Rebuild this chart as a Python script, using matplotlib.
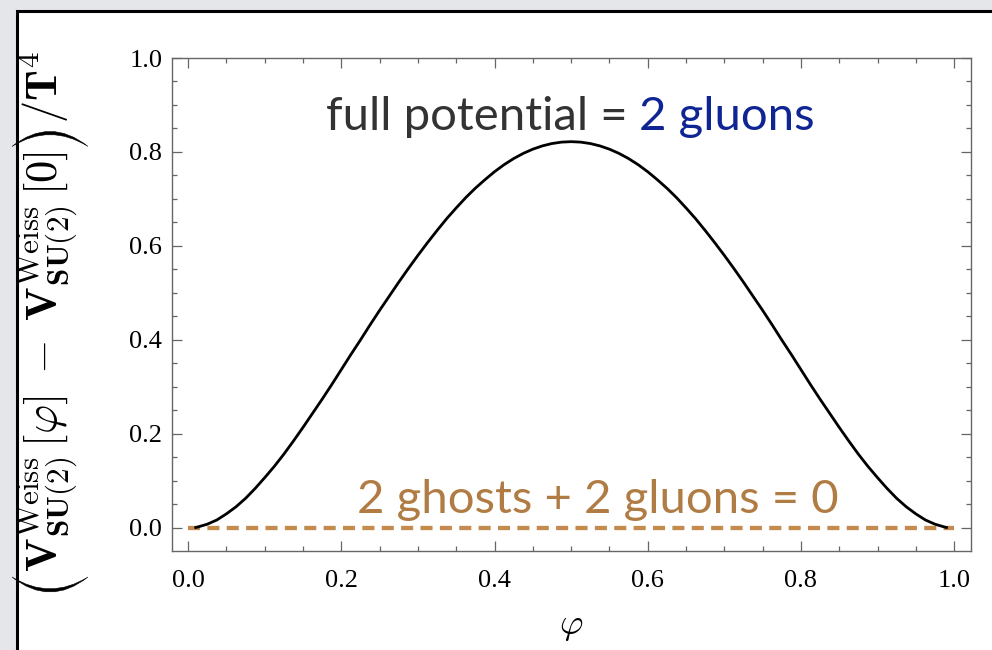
import matplotlib
matplotlib.use("Agg")
import matplotlib.pyplot as plt
from matplotlib.patches import Rectangle, PathPatch
from matplotlib.path import Path
from matplotlib.ticker import MultipleLocator
from matplotlib.transforms import IdentityTransform

# Weiss potential of SU(2) (full potential), sampled in phi
phi = [0.01, 0.0125, 0.025, 0.0375, 0.05, 0.0625, 0.075, 0.0875, 0.10, 0.1125,
       0.125, 0.1375, 0.15, 0.1625, 0.175, 0.1875, 0.20, 0.2125, 0.225, 0.2375,
       0.25, 0.2625, 0.275, 0.2875, 0.30, 0.3125, 0.325, 0.3375, 0.35, 0.3625,
       0.375, 0.3875, 0.40, 0.4125, 0.425, 0.4375, 0.45, 0.4625, 0.475, 0.4875,
       0.50,
       0.5125, 0.525, 0.5375, 0.55, 0.5625, 0.575, 0.5875, 0.60, 0.6125, 0.625,
       0.6375, 0.65, 0.6625, 0.675, 0.6875, 0.70, 0.7125, 0.725, 0.7375, 0.75,
       0.7625, 0.775, 0.7875, 0.80, 0.8125, 0.825, 0.8375, 0.85, 0.8625, 0.875,
       0.8875, 0.90, 0.9125, 0.925, 0.9375, 0.95, 0.9625, 0.975, 0.9875, 0.99]
v_full = [0.001, 0.002, 0.008, 0.017, 0.030, 0.045, 0.063, 0.084, 0.107, 0.131,
          0.157, 0.185, 0.214, 0.244, 0.274, 0.305, 0.337, 0.369, 0.400, 0.432,
          0.463, 0.493, 0.523, 0.552, 0.580, 0.607, 0.633, 0.658, 0.681, 0.703,
          0.723, 0.741, 0.758, 0.773, 0.786, 0.797, 0.806, 0.813, 0.818, 0.821,
          0.822,
          0.821, 0.818, 0.813, 0.806, 0.797, 0.786, 0.773, 0.758, 0.741, 0.723,
          0.703, 0.681, 0.658, 0.633, 0.607, 0.580, 0.552, 0.523, 0.493, 0.463,
          0.432, 0.400, 0.369, 0.337, 0.305, 0.274, 0.244, 0.214, 0.185, 0.157,
          0.131, 0.107, 0.084, 0.063, 0.045, 0.030, 0.017, 0.008, 0.002, 0.001]

# ghosts + gluons cancel exactly
phi_zero = [0.0, 1.0]
v_zero = [0.0, 0.0]

x_ticks = [0.0, 0.2, 0.4, 0.6, 0.8, 1.0]
y_ticks = [0.0, 0.2, 0.4, 0.6, 0.8, 1.0]

W, H = 992, 650
plt.rcParams["mathtext.fontset"] = "cm"

fig = plt.figure(figsize=(W / 100, H / 100), dpi=100)
fig.patch.set_facecolor("#e4e6ea")

# white slide panel with black outline
panel = Rectangle((17 / W, -0.1), 1.2, 1 - 11 / H + 0.1,
                  transform=fig.transFigure, facecolor="white",
                  edgecolor="black", linewidth=2.2, zorder=-10)
fig.patches.append(panel)

ax = fig.add_axes([172 / W, 1 - 551 / H, (971 - 172) / W, (551 - 58) / H])
ax.set_facecolor("none")
ax.set_zorder(1)

ax.plot(phi_zero, v_zero, color="#c38b4d", linewidth=3.1,
        dashes=(2.8, 1.7), solid_capstyle="butt", zorder=2)
ax.plot(phi, v_full, color="black", linewidth=2.0, zorder=3,
        solid_joinstyle="round")

ax.set_xlim(-0.021, 1.022)
ax.set_ylim(-0.049, 1.0)

ax.set_xticks(x_ticks)
ax.set_yticks(y_ticks)
ax.xaxis.set_minor_locator(MultipleLocator(0.05))
ax.yaxis.set_minor_locator(MultipleLocator(0.05))
ax.set_xticklabels([f"{t:.1f}" for t in x_ticks])
ax.set_yticklabels([f"{t:.1f}" for t in y_ticks])

for s in ax.spines.values():
    s.set_color("#666666")
    s.set_linewidth(1.0)

ax.tick_params(which="both", direction="in", top=True, right=True,
               color="#666666", width=0.9)
ax.tick_params(which="major", length=7)
ax.tick_params(which="minor", length=3.8)
ax.tick_params(axis="x", which="major", pad=14)
ax.tick_params(axis="y", which="major", pad=7)
for lab in ax.get_xticklabels() + ax.get_yticklabels():
    lab.set_fontfamily("Liberation Serif")
    lab.set_fontsize(19)

ax.set_xlabel(r"$\varphi$", fontsize=26, labelpad=12)

fig.canvas.draw()
r = fig.canvas.get_renderer()


# vertical axis title, built bottom-to-top with tall, thin parentheses
def add_paren(opening_up, y_start, x0=12, x1=88, depth=15, thick=3.2):
    xm = (x0 + x1) / 2
    if opening_up:
        ye, sgn = y_start + depth, -1
    else:
        ye, sgn = y_start, 1
    outer = ye + sgn * 2 * depth
    inner = ye + sgn * 2 * (depth - thick)
    verts = [(x0, ye), (xm, outer), (x1, ye), (xm, inner), (x0, ye), (x0, ye)]
    codes = [Path.MOVETO, Path.CURVE3, Path.CURVE3, Path.CURVE3, Path.CURVE3,
             Path.CLOSEPOLY]
    fig.patches.append(PathPatch(Path(verts, codes), transform=IdentityTransform(),
                                 facecolor="black", edgecolor="black",
                                 linewidth=0.4, zorder=5))
    return depth


y_pos = H - 592
y_pos += add_paren(True, y_pos) + 5
inner_txt = fig.text(58 / W, y_pos / H,
                     r"$\mathbf{V}^{\mathrm{Weiss}}_{\mathbf{SU(2)}}\,[\varphi]\;-\;"
                     r"\mathbf{V}^{\mathrm{Weiss}}_{\mathbf{SU(2)}}\,[\mathbf{0}]$",
                     fontsize=32, rotation=90, rotation_mode="anchor",
                     ha="left", va="baseline")
fig.canvas.draw()
y_pos += inner_txt.get_window_extent(r).height + 5
y_pos += add_paren(False, y_pos) + 8
fig.text(58 / W, y_pos / H, r"$/\mathbf{T}^4$", fontsize=32, rotation=90,
         rotation_mode="anchor", ha="left", va="baseline")


def place_pair(y, left_text, right_text, left_color, right_color, center_x, size):
    a = ax.text(0, y, left_text, color=left_color, fontsize=size, family="Lato",
                va="baseline", ha="left")
    b = ax.text(0, y, right_text, color=right_color, fontsize=size, family="Lato",
                va="baseline", ha="left")
    fig.canvas.draw()
    wa = a.get_window_extent(r).width
    wb = b.get_window_extent(r).width
    inv = ax.transData.inverted()
    x0_px = ax.transData.transform((center_x, y))[0] - (wa + wb) / 2
    ya = ax.transData.transform((0, y))[1]
    a.set_x(inv.transform((x0_px, ya))[0])
    b.set_x(inv.transform((x0_px + wa, ya))[0])


place_pair(0.846, "full potential = ", "2 gluons", "#333333", "#0f2594", 0.499, 34)
ax.text(0.535, 0.032, "2 ghosts + 2 gluons = 0", color="#b07c44", fontsize=34,
        family="Lato", va="baseline", ha="center")

fig.savefig("out.png", dpi=100, facecolor=fig.get_facecolor())
